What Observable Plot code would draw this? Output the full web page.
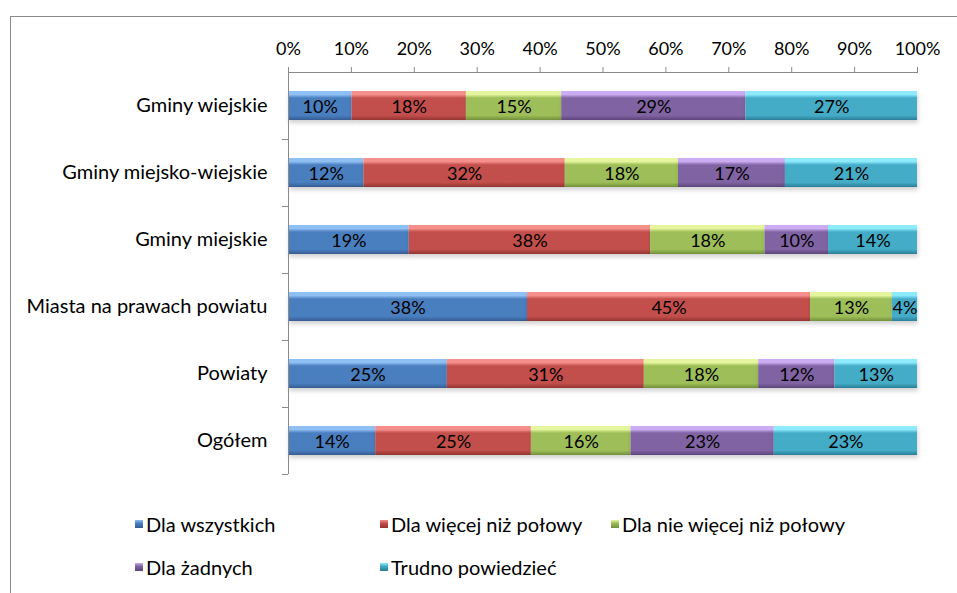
<!DOCTYPE html>
<html>
<head>
<meta charset="utf-8">
<script src="https://cdn.jsdelivr.net/npm/d3@7"></script>
<script src="https://cdn.jsdelivr.net/npm/@observablehq/plot@0.6"></script>
<style>
  body { margin: 0; background: #fff; font-family: Lato, "Open Sans", sans-serif; }
  #wrap { position: relative; width: 957px; height: 593px; overflow: hidden; }
  #border { position: absolute; left: 10px; top: 16px; width: 1200px; height: 900px;
            border-top: 1px solid #8a8a8a; border-left: 1px solid #8a8a8a; }
  #chart { position: absolute; left: 0; top: 0; }
  #legend { position: absolute; left: 0; top: 0; font-size: 20px; color: #000; }
  .item { position: absolute; white-space: nowrap; display: flex; align-items: center; height: 24px; }
  .swatch { width: 8px; height: 8px; margin-right: 3px; }
</style>
</head>
<body>
<div id="wrap">
  <div id="border"></div>
  <div id="chart"></div>
  <div id="legend"></div>
</div>
<script>
// Unit types (rows, top to bottom)
const categories = [
  "Gminy wiejskie",
  "Gminy miejsko-wiejskie",
  "Gminy miejskie",
  "Miasta na prawach powiatu",
  "Powiaty",
  "Ogółem"
];

// Answer categories (stack order, left to right)
const seriesNames = [
  "Dla wszystkich",
  "Dla więcej niż połowy",
  "Dla nie więcej niż połowy",
  "Dla żadnych",
  "Trudno powiedzieć"
];

// Percent shares per row
const dlaWszystkich    = [10, 12, 19, 38, 25, 14];
const dlaWiecej        = [18, 32, 38, 45, 31, 25];
const dlaNieWiecej     = [15, 18, 18, 13, 18, 16];
const dlaZadnych       = [29, 17, 10,  0, 12, 23];
const trudnoPowiedziec = [27, 21, 14,  4, 13, 23];

const xTicks = [0, 0.1, 0.2, 0.3, 0.4, 0.5, 0.6, 0.7, 0.8, 0.9, 1];

// Bevel-like shading per series: [light top, base, dark bottom]
const shades = [
  ["#8fc0f4", "#4a7ebf", "#345c92"],
  ["#f58f8c", "#c24f4b", "#923431"],
  ["#e5f59e", "#9dbe58", "#72903a"],
  ["#cbacf2", "#8064a2", "#5b447c"],
  ["#8debfd", "#45acc8", "#2a7e96"]
];
const gradIds = seriesNames.map((_, i) => `bevel-${i}`);

const valuesBySeries = [dlaWszystkich, dlaWiecej, dlaNieWiecej, dlaZadnych, trudnoPowiedziec];
const data = [];
categories.forEach((c, ci) => {
  seriesNames.forEach((s, si) => {
    const v = valuesBySeries[si][ci];
    if (v > 0) data.push({category: c, series: s, value: v});
  });
});

const font = "Lato, 'Open Sans', sans-serif";

// Gradient and shadow definitions used by the bars
function gradients() {
  const g = d3.create("svg:g");
  const defs = g.append("defs");
  shades.forEach(([light, base, dark], i) => {
    const lg = defs.append("linearGradient")
      .attr("id", gradIds[i]).attr("x1", 0).attr("y1", 0).attr("x2", 0).attr("y2", 1);
    lg.append("stop").attr("offset", "0").attr("stop-color", light);
    lg.append("stop").attr("offset", "0.12").attr("stop-color", light);
    lg.append("stop").attr("offset", "0.24").attr("stop-color", base);
    lg.append("stop").attr("offset", "0.84").attr("stop-color", base);
    lg.append("stop").attr("offset", "1").attr("stop-color", dark);
  });
  const f = defs.append("filter").attr("id", "barshadow")
    .attr("x", "-5%").attr("y", "-20%").attr("width", "110%").attr("height", "160%");
  f.append("feDropShadow").attr("dx", 1).attr("dy", 3).attr("stdDeviation", 2)
    .attr("flood-color", "#000").attr("flood-opacity", 0.18);
  return g.node();
}

// Category separator ticks on the left axis, at band boundaries
function bandTicks(index, scales, values, dimensions) {
  const y = scales.y;
  const bw = typeof y.bandwidth === "function" ? y.bandwidth() : y.bandwidth;
  const step = typeof y.step === "function" ? y.step() : y.step;
  const x0 = dimensions.marginLeft;
  const g = d3.create("svg:g").attr("stroke", "#8a8a8a").attr("stroke-width", 1);
  categories.forEach(c => {
    const yb = Math.round(y(c) + bw + (step - bw) / 2) + 0.5;
    g.append("line").attr("x1", x0 - 6).attr("x2", x0).attr("y1", yb).attr("y2", yb);
  });
  return g.node();
}

const chart = Plot.plot({
  width: 957,
  height: 500,
  marginLeft: 288,
  marginRight: 40,
  marginTop: 72,
  marginBottom: 26,
  style: {fontFamily: font, fontSize: "18px", color: "#000", background: "transparent"},
  x: {domain: [0, 1], axis: null},
  y: {domain: categories, paddingInner: 0.565, paddingOuter: 0.2825, axis: null},
  color: {type: "ordinal", domain: seriesNames, range: gradIds.map(id => `url(#${id})`)},
  marks: [
    gradients,
    Plot.barX(data, Plot.stackX({
      offset: "normalize",
      x: "value",
      y: "category",
      fill: "series"
    })),
    Plot.text(data, Plot.stackX({
      offset: "normalize",
      x: "value",
      y: "category",
      text: d => `${d.value}%`,
      fill: "#000",
      fontSize: 18,
      dy: 1
    })),
    Plot.frame({anchor: "top", stroke: "#8a8a8a"}),
    Plot.ruleX([0], {stroke: "#8a8a8a"}),
    bandTicks,
    Plot.axisX({
      anchor: "top",
      ticks: xTicks,
      tickFormat: d3.format(".0%"),
      tickSize: 6,
      tickPadding: 12,
      stroke: "#8a8a8a",
      fill: "#000",
      fontSize: 18,
      label: null
    }),
    Plot.axisY({
      tickSize: 0,
      tickPadding: 21,
      fill: "#000",
      fontSize: 20,
      label: null
    })
  ]
});
chart.querySelectorAll("g[aria-label='bar'] rect").forEach(r => r.setAttribute("filter", "url(#barshadow)"));
document.getElementById("chart").appendChild(chart);

// Legend below the plot
const legendPos = [[135, 524], [380, 524], [611, 524], [135, 567], [380, 567]];
const legend = document.getElementById("legend");
seriesNames.forEach((s, i) => {
  const [x, y] = legendPos[i];
  const item = document.createElement("div");
  item.className = "item";
  item.style.left = x + "px";
  item.style.top = (y - 12) + "px";
  const sw = document.createElement("span");
  sw.className = "swatch";
  const [light, base, dark] = shades[i];
  sw.style.background = `linear-gradient(to bottom, ${light} 0%, ${base} 40%, ${dark} 100%)`;
  const tx = document.createElement("span");
  tx.textContent = s;
  item.appendChild(sw);
  item.appendChild(tx);
  legend.appendChild(item);
});
</script>
</body>
</html>
